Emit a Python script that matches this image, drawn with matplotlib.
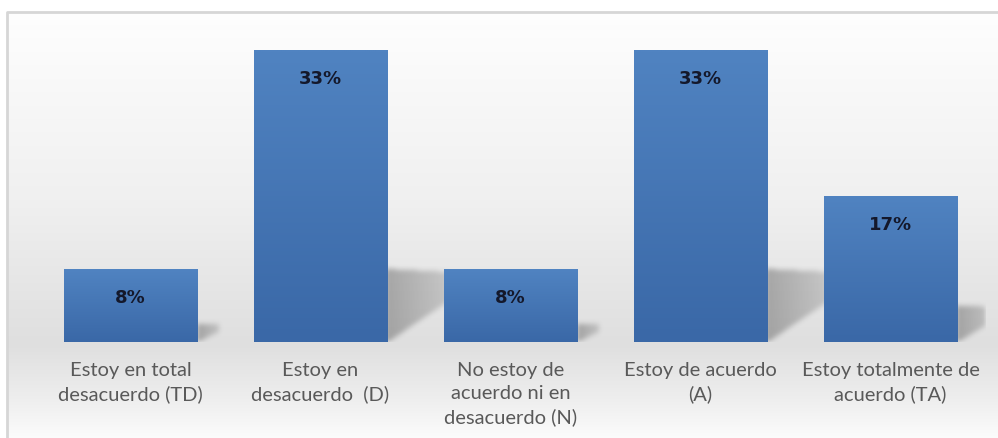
import matplotlib
matplotlib.use("Agg")
import matplotlib.pyplot as plt
import numpy as np
from matplotlib.patches import Rectangle

# Survey answers (share of respondents, %)
categories = [
    "Estoy en total\ndesacuerdo (TD)",
    "Estoy en\ndesacuerdo  (D)",
    "No estoy de\nacuerdo ni en\ndesacuerdo (N)",
    "Estoy de acuerdo\n(A)",
    "Estoy totalmente de\nacuerdo (TA)",
]
percentages = [8.33, 33.33, 8.33, 33.33, 16.67]

BAR_TOP = np.array([80, 131, 193]) / 255
BAR_BOTTOM = np.array([58, 104, 167]) / 255
LABEL_COLOR = "#14182b"
TICK_COLOR = "#595959"
FRAME_COLOR = "#d6d6d6"
BAR_WIDTH = 0.705
Y_MAX = 36

W_PX, H_PX = 998, 439
fig = plt.figure(figsize=(W_PX / 100, H_PX / 100), dpi=100)

# Background: soft vertical gradient inside a light frame
bg = fig.add_axes([0, 0, 1, 1], zorder=0)
bg.set_xlim(0, W_PX)
bg.set_ylim(H_PX, 0)
bg.axis("off")
rows = np.arange(H_PX)
stops_y = [12, 200, 300, 345, 400, 439]
stops_v = [254, 240, 228, 223, 238, 252]
shade = np.interp(rows, stops_y, stops_v) / 255
grad = np.repeat(shade[:, None], W_PX, axis=1)
bg.imshow(np.dstack([grad, grad, grad]), extent=(0, W_PX, H_PX, 0), aspect="auto")
bg.add_patch(Rectangle((0, 0), W_PX, 12, color="white", lw=0))
bg.add_patch(Rectangle((0, 0), 7, H_PX, color="white", lw=0))
bg.plot([7.5, 7.5, W_PX], [H_PX, 12.5, 12.5], color=FRAME_COLOR, lw=2)

ax_left, ax_right = 35.5, 985.5
ax_bottom_px, px_per_unit = 343, 8.76
ax_h_px = Y_MAX * px_per_unit
ax = fig.add_axes([
    ax_left / W_PX,
    (H_PX - ax_bottom_px) / H_PX,
    (ax_right - ax_left) / W_PX,
    ax_h_px / H_PX,
], zorder=1)
ax.patch.set_alpha(0)
x = np.arange(len(categories))
ax.set_xlim(-0.5, len(categories) - 0.5)
ax.set_ylim(0, Y_MAX)

# Perspective drop shadows behind each bar, on a pixel grid of the axes
gw, gh = int(ax_right - ax_left), int(round(ax_h_px))
gx = np.arange(gw)[None, :] + 0.5
gy = np.arange(gh)[:, None] + 0.5
alpha = np.zeros((gh, gw))
x_scale = gw / len(categories)
for xi, value in zip(x, percentages):
    xr = (xi + 0.5 + BAR_WIDTH / 2) * x_scale
    h = value * gh / Y_MAX
    sw = 0.18 * h + 8
    t = (gx - xr) / sw
    lower = t * 0.14 * h
    upper = 0.25 * h - t * 0.01 * h
    inside = (t >= -0.05) & (t <= 1) & (gy >= lower) & (gy <= upper)
    alpha = np.maximum(alpha, np.where(inside, 0.38 * (1 - 0.5 * np.clip(t, 0, 1)), 0))


def box_blur(img, r):
    k = np.ones(2 * r + 1) / (2 * r + 1)
    img = np.apply_along_axis(lambda m: np.convolve(m, k, mode="same"), 0, img)
    return np.apply_along_axis(lambda m: np.convolve(m, k, mode="same"), 1, img)


for _ in range(3):
    alpha = box_blur(alpha, 2)
shadow = np.zeros((gh, gw, 4))
shadow[..., :3] = 0.25
shadow[..., 3] = alpha
ax.imshow(shadow, extent=(-0.5, len(categories) - 0.5, 0, Y_MAX),
          origin="lower", aspect="auto", zorder=1, interpolation="bilinear")

bars = ax.bar(x, percentages, width=BAR_WIDTH, color=BAR_TOP, zorder=2, lw=0)

# Vertical gradient fill clipped to each bar (lighter at the top)
ramp = np.linspace(0, 1, 64)[:, None, None]
ramp_img = BAR_BOTTOM * ramp + BAR_TOP * (1 - ramp)
for bar in bars:
    bx, by = bar.get_x(), bar.get_y()
    im = ax.imshow(ramp_img, extent=(bx, bx + bar.get_width(), by, by + bar.get_height()),
                   aspect="auto", zorder=3, interpolation="bilinear")
    im.set_clip_path(bar)

for xi, value in zip(x, percentages):
    ax.annotate(f"{value:.0f}%", (xi, value), xytext=(0, -20), textcoords="offset points",
                ha="center", va="center", fontsize=13, fontweight="bold",
                color=LABEL_COLOR, zorder=4)

ax.set_xticks(x)
ax.set_xticklabels(categories, fontsize=14.5, color=TICK_COLOR, family="Lato",
                   linespacing=1.4)
ax.tick_params(axis="x", length=0, pad=14)
ax.set_yticks([])
for spine in ax.spines.values():
    spine.set_visible(False)

fig.savefig("out.png", dpi=100)
